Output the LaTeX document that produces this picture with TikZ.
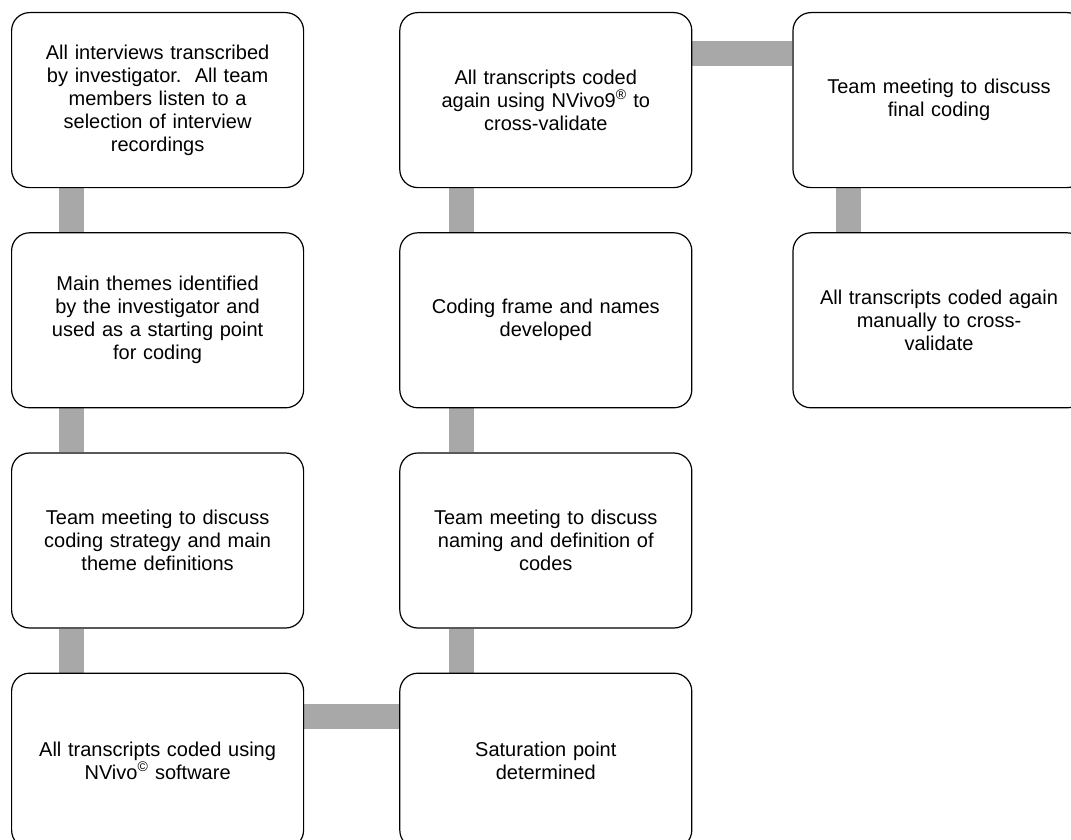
\documentclass[tikz,border=0pt]{standalone}
\usepackage{fontspec}
\setmainfont{Liberation Sans}
\usepackage{xcolor}
\usepackage{tikz}
\usetikzlibrary{positioning,backgrounds}
\definecolor{bargray}{RGB}{168,168,168}
\tikzstyle{stage} = [rectangle, rounded corners=18pt, minimum width=292pt, minimum height=175pt, inner sep=0pt, text width=280pt, align=center, draw=black, line width=1.2pt, fill=white, font=\fontsize{20}{23}\selectfont]
\tikzstyle{bar} = [bargray, line width=25pt, line cap=butt]

\begin{document}
\begin{tikzpicture}[node distance = 44pt]
\useasboundingbox (0pt,0pt) rectangle (1071pt,-840pt);

\node(transcribe)[stage, anchor=north west] at (11pt,-12pt) {All interviews transcribed\\by investigator.\ \ All team\\members listen to a\\selection of interview\\recordings};
\node(themes)[stage, below=of transcribe] {Main themes identified\\by the investigator and\\used as a starting point\\for coding};
\node(strategy)[stage, below=of themes] {Team meeting to discuss\\coding strategy and main\\theme definitions};
\node(nvivo)[stage, below=of strategy] {All transcripts coded using\\NVivo\textsuperscript{©} software};
\node(saturation)[stage, right=95pt of nvivo] {Saturation point\\determined};
\node(naming)[stage, above=of saturation] {Team meeting to discuss\\naming and definition of\\codes};
\node(frame)[stage, above=of naming] {Coding frame and names\\developed};
\node(recode)[stage, above=of frame] {All transcripts coded\\again using NVivo9\textsuperscript{®} to\\cross-validate};
\node(final)[stage, right=100pt of recode] {Team meeting to discuss\\final coding};
\node(manual)[stage, below=of final] {All transcripts coded again\\manually to cross-\\validate};

\begin{scope}[on background layer]
\draw [bar] ([xshift=60pt]transcribe.south west) -- ([xshift=60pt]themes.north west);
\draw [bar] ([xshift=60pt]themes.south west) -- ([xshift=60pt]strategy.north west);
\draw [bar] ([xshift=60pt]strategy.south west) -- ([xshift=60pt]nvivo.north west);
\draw [bar] ([yshift=-44pt]nvivo.north east) -- ([yshift=-44pt]saturation.north west);
\draw [bar] ([xshift=62pt]saturation.north west) -- ([xshift=62pt]naming.south west);
\draw [bar] ([xshift=62pt]naming.north west) -- ([xshift=62pt]frame.south west);
\draw [bar] ([xshift=62pt]frame.north west) -- ([xshift=62pt]recode.south west);
\draw [bar] ([yshift=-42pt]recode.north east) -- ([yshift=-42pt]final.north west);
\draw [bar] ([xshift=56pt]final.south west) -- ([xshift=56pt]manual.north west);
\end{scope}

\end{tikzpicture}
\end{document}
